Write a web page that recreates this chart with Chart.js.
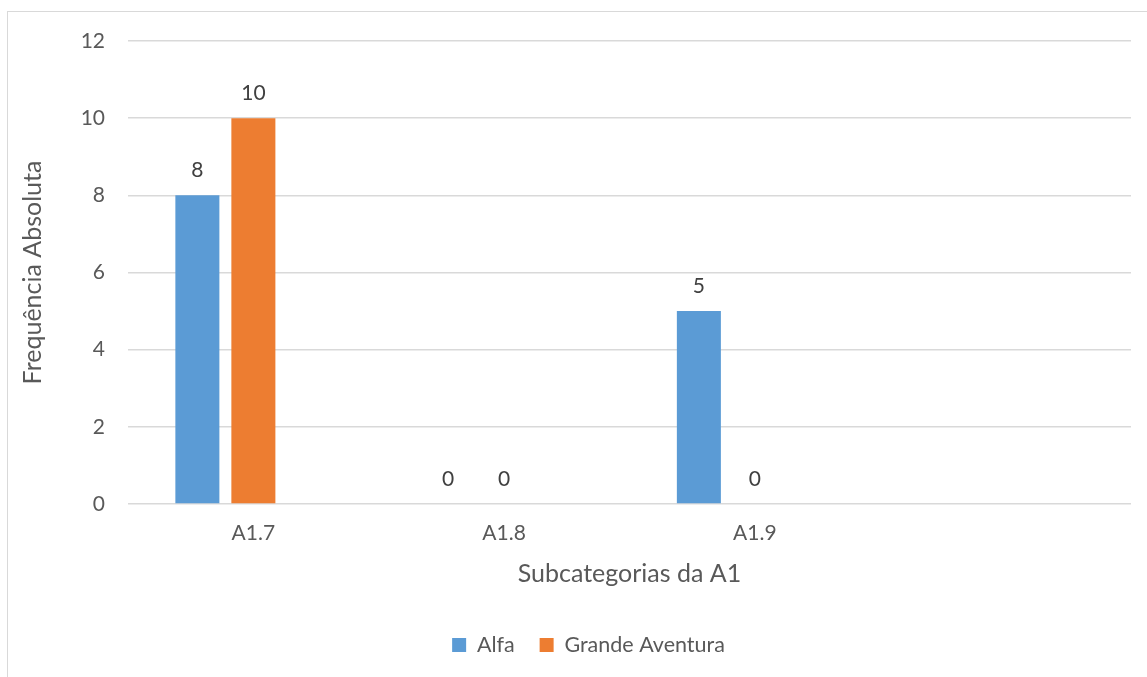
<!DOCTYPE html>
<html>
<head>
<meta charset="utf-8">
<script src="https://cdn.jsdelivr.net/npm/chart.js@4"></script>
<style>
  html, body { margin: 0; padding: 0; background: #fff; }
  #wrap { position: relative; width: 1147px; height: 677px; overflow: hidden; }
  #frame { position: absolute; left: 7px; top: 11px; width: 1200px; height: 700px;
           border-left: 1.5px solid #d9d9d9; border-top: 1.5px solid #d9d9d9; }
  #chart { position: absolute; left: 0; top: 0; }
</style>
</head>
<body>
<div id="wrap">
  <div id="frame"></div>
  <canvas id="chart" width="1147" height="677"></canvas>
</div>
<script>
const categories = ["A1.7", "A1.8", "A1.9", ""];
const alfa = [8, 0, 5, null];
const grandeAventura = [10, 0, 0, null];
// empty third series, Excel leaves a slot for it in each group
const emptySeries = [null, null, null, null];
const yTicks = [0, 2, 4, 6, 8, 10, 12];

const FONT = "Lato";
const TEXT = "#595959";

// draws the value above each bar, like Excel data labels
const valueLabels = {
  id: "valueLabels",
  afterDatasetsDraw(chart) {
    const ctx = chart.ctx;
    ctx.save();
    ctx.font = `21px ${FONT}`;
    ctx.fillStyle = "#404040";
    ctx.textAlign = "center";
    ctx.textBaseline = "middle";
    [0, 1].forEach(i => {
      const meta = chart.getDatasetMeta(i);
      meta.data.forEach((bar, j) => {
        const v = chart.data.datasets[i].data[j];
        if (v === null) return;
        ctx.fillText(String(v), bar.x, bar.y - 25);
      });
    });
    ctx.restore();
  }
};

new Chart(document.getElementById("chart"), {
  type: "bar",
  data: {
    labels: categories,
    datasets: [
      { label: "Alfa", data: alfa, backgroundColor: "#5B9BD5" },
      { label: "Grande Aventura", data: grandeAventura, backgroundColor: "#ED7D31" },
      { label: "", data: emptySeries, backgroundColor: "#A5A5A5" }
    ]
  },
  options: {
    responsive: false,
    animation: false,
    devicePixelRatio: 1,
    categoryPercentage: 0.67,
    barPercentage: 0.786,
    layout: { padding: { left: 46, right: 16, top: 41, bottom: 11.25 } },
    scales: {
      x: {
        grid: { display: false, drawTicks: false },
        border: { display: false },
        ticks: { color: TEXT, font: { family: FONT, size: 21 }, padding: 17 },
        title: {
          display: true, text: "Subcategorias da A1", color: TEXT,
          font: { family: FONT, size: 25 }, padding: { top: 0, bottom: 20.75 }
        },
        afterFit: s => { s.height = 105.25; }
      },
      y: {
        min: 0, max: 12,
        afterBuildTicks: s => { s.ticks = yTicks.map(v => ({ value: v })); },
        grid: { color: "#d9d9d9", lineWidth: 1.5, drawTicks: false },
        border: { display: false },
        ticks: { color: TEXT, font: { family: FONT, size: 21 }, padding: 23 },
        title: {
          display: true, text: "Frequência Absoluta", color: TEXT,
          font: { family: FONT, size: 25 }, padding: { top: -28, bottom: 0 }
        },
        afterFit: s => { s.width = 82; }
      }
    },
    plugins: {
      tooltip: { enabled: false },
      legend: {
        position: "bottom",
        labels: {
          color: TEXT,
          font: { family: FONT, size: 21.5 },
          boxWidth: 14, boxHeight: 14,
          padding: 25,
          filter: item => item.text !== ""
        }
      }
    }
  },
  plugins: [valueLabels]
});
</script>
</body>
</html>
